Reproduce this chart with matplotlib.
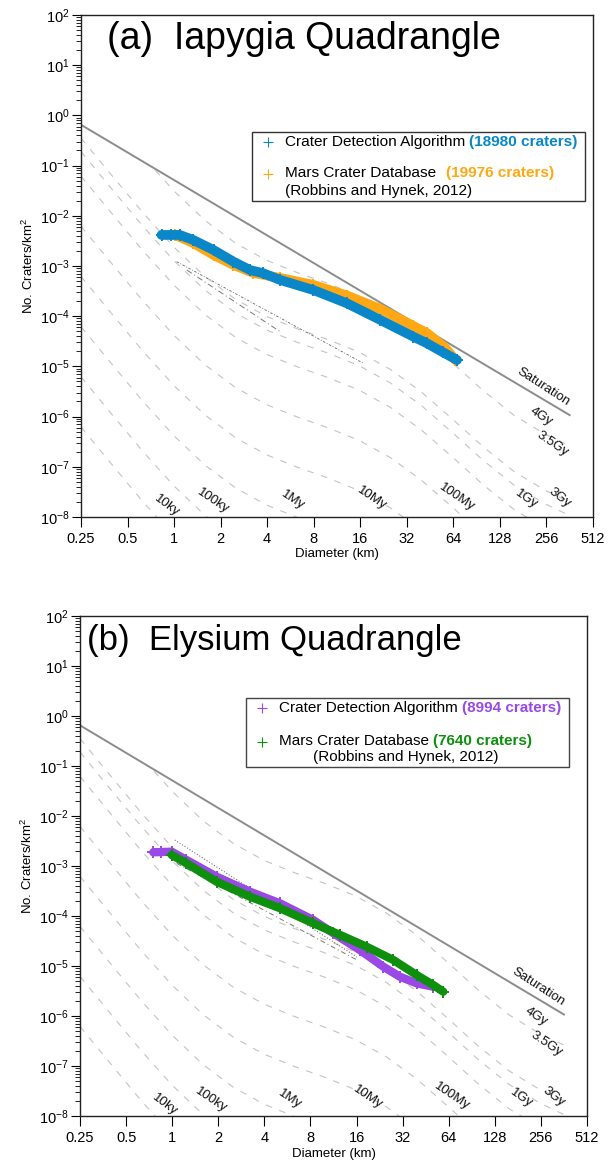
import numpy as np
import matplotlib
matplotlib.use("Agg")
import matplotlib.pyplot as plt
from matplotlib.patches import Rectangle, Polygon
from matplotlib.offsetbox import TextArea, HPacker, AnchoredOffsetbox
from matplotlib.ticker import FixedLocator, FixedFormatter, LogLocator, NullFormatter, NullLocator

plt.rcParams['font.family'] = ['Liberation Sans', 'DejaVu Sans']
plt.rcParams['mathtext.fontset'] = 'custom'
plt.rcParams['mathtext.rm'] = 'Liberation Sans'
plt.rcParams['mathtext.it'] = 'Liberation Sans:italic'
plt.rcParams['mathtext.bf'] = 'Liberation Sans:bold'
plt.rcParams['mathtext.default'] = 'regular'
plt.rcParams['axes.unicode_minus'] = False

# ---------------- axes / reference data ----------------
x_ticks = [0.25, 0.5, 1, 2, 4, 8, 16, 32, 64, 128, 256, 512]
x_ticklabels = ['0.25', '0.5', '1', '2', '4', '8', '16', '32', '64', '128', '256', '512']
y_min, y_max = 1e-8, 1e2

# saturation line
sat_D = [0.25, 362.0]
sat_N = [0.65, 1.07e-6]

# 1 Gyr isochron (log10 N vs log10 D), other isochrons are vertical shifts
iso_logD = [-0.602, -0.4, -0.2, 0.0, 0.2, 0.4, 0.6, 0.8, 1.0, 1.2, 1.4, 1.6,
            1.8, 2.0, 2.2, 2.4, 2.559]
iso_logN_1Gy = [-1.209, -1.963, -2.701, -3.384, -3.968, -4.427, -4.764, -5.012,
                -5.228, -5.479, -5.819, -6.268, -6.805, -7.361, -7.854, -8.226, -8.459]
iso_names = ['10ky', '100ky', '1My', '10My', '100My', '1Gy', '3Gy', '3.5Gy', '4Gy']
iso_shift = [-5.0, -4.0, -3.0, -2.0, -1.0, 0.0, 0.487, 0.757, 1.876]
iso_label_D = [0.90, 1.79, 5.89, 18.9, 67.0, 190.0, 311.0, 280.0, 237.0]
iso_label_N = [1.66e-8, 2.09e-8, 2.19e-8, 2.40e-8, 2.51e-8, 2.29e-8, 2.40e-8, 2.82e-7, 9.8e-7]
iso_label_rot = [-37, -34, -34, -34, -34, -35, -38, -34, -33]
sat_label_D, sat_label_N, sat_label_rot = 245.0, 3.9e-6, -33

# ---------------- panel (a) Iapygia ----------------
a_cda_D = [0.83, 0.95, 1.09, 1.33, 1.80, 2.42, 3.10, 3.78, 4.86, 7.94, 13.1, 21.6,
           35.3, 43.2, 55.0, 67.6]
a_cda_N = [4.15e-3, 4.15e-3, 4.15e-3, 3.30e-3, 2.08e-3, 1.22e-3, 8.3e-4, 7.15e-4,
           5.26e-4, 3.33e-4, 1.81e-4, 8.4e-5, 3.91e-5, 2.88e-5, 1.9e-5, 1.34e-5]
a_mcd_D = [1.015, 1.33, 1.80, 2.42, 3.26, 4.86, 7.97, 13.1, 21.6, 35.3, 43.2, 56.8, 65.9]
a_mcd_N = [4.15e-3, 2.87e-3, 1.66e-3, 1.05e-3, 7.26e-4, 5.77e-4, 4.19e-4, 2.58e-4,
           1.39e-4, 6.38e-5, 4.62e-5, 2.33e-5, 1.34e-5]
a_fit1_D = [1.04, 16.8]
a_fit1_N = [1.22e-3, 1.15e-5]
a_fit2_D = [1.21, 4.86]
a_fit2_N = [8.3e-4, 4.9e-5]
a_cda_count = '18980'
a_mcd_count = '19976'

# ---------------- panel (b) Elysium ----------------
b_cda_D = [0.753, 0.85, 0.993, 1.24, 1.95, 3.22, 5.06, 8.35, 11.3, 16.8, 23.9, 30.7, 39.5, 50.7]
b_cda_N = [1.88e-3, 1.90e-3, 1.93e-3, 1.32e-3, 6.11e-4, 3.06e-4, 1.79e-4, 8.3e-5,
           4.51e-5, 2.09e-5, 9.7e-6, 6.1e-6, 4.5e-6, 3.85e-6]
b_mcd_D = [0.993, 1.24, 1.95, 3.22, 5.06, 8.35, 12.5, 18.6, 27.8, 39.5, 50.7, 58.9]
b_mcd_N = [1.66e-3, 1.13e-3, 4.85e-4, 2.43e-4, 1.43e-4, 7.14e-5, 4.17e-5, 2.43e-5,
           1.32e-5, 6.6e-6, 4.17e-6, 3.06e-6]
b_fit1_D = [1.04, 16.1]
b_fit1_N = [3.31e-3, 1.51e-5]
b_fit2_D = [1.07, 16.1]
b_fit2_N = [1.13e-3, 1.32e-5]
b_cda_count = '8994'
b_mcd_count = '7640'

BLUE = '#0a87c9'
ORANGE = '#ffa814'
PURPLE = '#9a48e6'
GREEN = '#0e8f0e'
ISO_C = '#c4c4c4'
SAT_C = '#8c8c8c'

fig = plt.figure(figsize=(6.13, 11.62), dpi=100)
ax_a = fig.add_axes([0.1321, 0.5551, 0.8352, 0.4320])
ax_b = fig.add_axes([0.1305, 0.0396, 0.8271, 0.4303])


def base_axes(ax, xlab_y):
    ax.set_xscale('log', base=2)
    ax.set_yscale('log')
    ax.set_xlim(x_ticks[0], x_ticks[-1])
    ax.set_ylim(y_min, y_max)
    ax.xaxis.set_major_locator(FixedLocator(x_ticks))
    ax.xaxis.set_major_formatter(FixedFormatter(x_ticklabels))
    ax.xaxis.set_minor_locator(NullLocator())
    ax.yaxis.set_major_locator(LogLocator(base=10, numticks=20))
    ax.yaxis.set_minor_locator(LogLocator(base=10, subs=np.arange(2, 10), numticks=20))
    ax.yaxis.set_minor_formatter(NullFormatter())
    ax.tick_params(axis='x', which='major', direction='out', length=7.5, width=0.8,
                   labelsize=10.5, pad=3)
    ax.tick_params(axis='y', which='major', direction='out', length=6.5, width=0.8,
                   labelsize=10.5, pad=1.5)
    ax.tick_params(axis='y', which='minor', direction='out', length=3.5, width=0.6)
    for s in ax.spines.values():
        s.set_linewidth(1.0)
        s.set_color('#222222')
    ax.set_xlabel('Diameter (km)', fontsize=9.5)
    ax.xaxis.set_label_coords(0.5, xlab_y)
    ax.xaxis.label.set_va('center')
    ax.set_ylabel('No. Craters/km$^2$', fontsize=9.5)
    ax.yaxis.set_label_coords(-0.088, 0.5)

    # saturation line
    ax.plot(sat_D, sat_N, color=SAT_C, lw=1.4, zorder=2)
    clip = Polygon([(sat_D[0], sat_N[0]), (sat_D[1], sat_N[1]), (sat_D[1], 1e-12),
                    (sat_D[0], 1e-12)], closed=True, transform=ax.transData,
                   facecolor='none', edgecolor='none')
    ax.add_patch(clip)
    D = 10 ** np.array(iso_logD)
    for name, sh, lx, ly, rot in zip(iso_names, iso_shift, iso_label_D, iso_label_N, iso_label_rot):
        N = 10 ** (np.array(iso_logN_1Gy) + sh)
        ln, = ax.plot(D, N, color=ISO_C, lw=0.8, linestyle=(0, (6, 7)), zorder=1)
        ln.set_clip_path(clip)
        ax.text(lx, ly, name, rotation=rot, ha='center', va='center',
                rotation_mode='anchor', fontsize=9.5, color='#111111', zorder=3)
    ax.text(sat_label_D, sat_label_N, 'Saturation', rotation=sat_label_rot,
            ha='center', va='center', rotation_mode='anchor', fontsize=9.5,
            color='#111111', zorder=3)


def band(ax, D, N, color, lw, z):
    ax.plot(D, N, '-', color=color, lw=lw, solid_capstyle='round',
            solid_joinstyle='round', zorder=z)
    ax.plot(D, N, '+', color=color, ms=9, mew=1.4, zorder=z)


def legend_line(ax, parts, x, y, fs, sep):
    areas = [TextArea(t, textprops=dict(color=c, fontsize=fs, fontweight=w))
             for t, c, w in parts]
    box = HPacker(children=areas, align='baseline', pad=0, sep=sep)
    anch = AnchoredOffsetbox(loc='center left', child=box, pad=0, borderpad=0,
                             frameon=False, bbox_to_anchor=(x, y),
                             bbox_transform=ax.transAxes)
    anch.set_zorder(11)
    ax.add_artist(anch)


# ---------------- panel (a) ----------------
base_axes(ax_a, -0.074)
ax_a.plot(a_fit1_D, a_fit1_N, color='#666666', lw=0.6, linestyle=(0, (3, 2, 1, 2)), zorder=2)
ax_a.plot(a_fit2_D, a_fit2_N, color='#777777', lw=0.7, linestyle=(0, (6, 3, 1, 3)), zorder=2)
band(ax_a, a_mcd_D, a_mcd_N, ORANGE, 7, 4)
band(ax_a, a_cda_D, a_cda_N, BLUE, 7, 5)
ax_a.text(0.05, 0.932, '(a)  Iapygia Quadrangle', transform=ax_a.transAxes,
          fontsize=27, va='baseline', ha='left')
ax_a.add_patch(Rectangle((0.334, 0.629), 0.650, 0.138, transform=ax_a.transAxes,
                         facecolor='white', edgecolor='#333333', lw=1.0, zorder=10))
ax_a.plot([0.365], [0.747], '+', color=BLUE, ms=7, mew=0.8, transform=ax_a.transAxes, zorder=11)
ax_a.plot([0.365], [0.683], '+', color=ORANGE, ms=7, mew=0.8, transform=ax_a.transAxes, zorder=11)
legend_line(ax_a, [('Crater Detection Algorithm', 'black', 'normal'),
                   ('(%s craters)' % a_cda_count, BLUE, 'bold')], 0.398, 0.747, 11.1, 3)
legend_line(ax_a, [('Mars Crater Database', 'black', 'normal'),
                   ('(%s craters)' % a_mcd_count, ORANGE, 'bold')], 0.398, 0.685, 11.1, 7)
legend_line(ax_a, [('(Robbins and Hynek, 2012)', 'black', 'normal')], 0.398, 0.649, 11.1, 0)

# ---------------- panel (b) ----------------
base_axes(ax_b, -0.076)
ax_b.plot(b_fit1_D, b_fit1_N, color='#555555', lw=0.7, linestyle=(0, (1, 2)), zorder=2)
ax_b.plot(b_fit2_D, b_fit2_N, color='#777777', lw=0.7, linestyle=(0, (5, 3, 1, 3)), zorder=2)
band(ax_b, b_cda_D, b_cda_N, PURPLE, 6, 4)
band(ax_b, b_mcd_D, b_mcd_N, GREEN, 6, 5)
ax_b.text(0.014, 0.932, '(b)  Elysium Quadrangle', transform=ax_b.transAxes,
          fontsize=25, va='baseline', ha='left')
ax_b.add_patch(Rectangle((0.327, 0.698), 0.637, 0.138, transform=ax_b.transAxes,
                         facecolor='white', edgecolor='#444444', lw=1.0, zorder=10))
ax_b.plot([0.359], [0.816], '+', color=PURPLE, ms=7, mew=0.8, transform=ax_b.transAxes, zorder=11)
ax_b.plot([0.359], [0.748], '+', color=GREEN, ms=7, mew=0.8, transform=ax_b.transAxes, zorder=11)
legend_line(ax_b, [('Crater Detection Algorithm', 'black', 'normal'),
                   ('(%s craters)' % b_cda_count, PURPLE, 'bold')], 0.393, 0.816, 11.0, 3)
legend_line(ax_b, [('Mars Crater Database', 'black', 'normal'),
                   ('(%s craters)' % b_mcd_count, GREEN, 'bold')], 0.393, 0.750, 11.0, 3)
legend_line(ax_b, [('(Robbins and Hynek, 2012)', 'black', 'normal')], 0.46, 0.718, 11.0, 0)

fig.savefig('out.png', dpi=100, facecolor='white')
